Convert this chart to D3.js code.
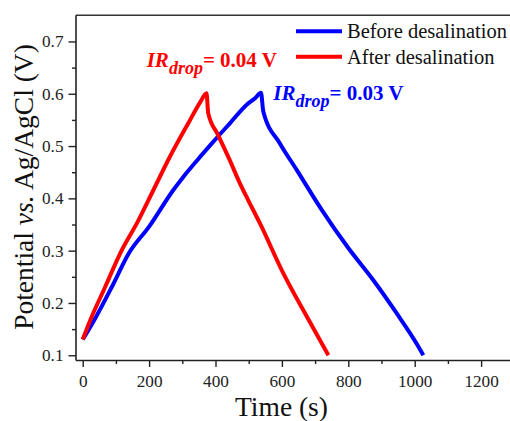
<!DOCTYPE html>
<html>
<head>
<meta charset="utf-8">
<script src="https://cdn.jsdelivr.net/npm/d3@7"></script>
<style>
  html, body { margin: 0; padding: 0; background: #fff; }
  svg { display: block; font-family: "Liberation Serif", "Times New Roman", serif; }
  text { font-family: "Liberation Serif", "Times New Roman", serif; }
</style>
</head>
<body>
<svg id="chart" width="510" height="421"></svg>
<script>
// ---- data ----
const beforeTime = [0, 35, 88, 139, 200, 273, 303, 345, 393, 444, 494, 520, 537, 544, 594, 645, 720, 800, 875, 946, 1006, 1026];
const beforePotential = [0.130, 0.1675, 0.231, 0.295, 0.346, 0.416, 0.441, 0.473, 0.508, 0.544, 0.579, 0.592, 0.602, 0.566, 0.505, 0.454, 0.378, 0.305, 0.244, 0.180, 0.122, 0.100];
const afterTime = [0, 23, 68, 113, 167, 213, 263, 318, 355, 373, 378, 408, 443, 469, 498, 534, 604, 675, 740];
const afterPotential = [0.130, 0.1675, 0.231, 0.295, 0.357, 0.416, 0.480, 0.5436, 0.585, 0.601, 0.563, 0.521, 0.473, 0.435, 0.397, 0.352, 0.257, 0.174, 0.100];
const xTicks = [0, 200, 400, 600, 800, 1000, 1200];
const xMinorTicks = [100, 300, 500, 700, 900, 1100];
const yTicks = [0.1, 0.2, 0.3, 0.4, 0.5, 0.6, 0.7];
const yMinorTicks = [0.15, 0.25, 0.35, 0.45, 0.55, 0.65];
const seriesNames = ["Before desalination", "After desalination"];
const seriesColors = ["#0000ff", "#ff0000"];
const irLabels = ["0.03 V", "0.04 V"];

(function () {
const FONT = '"Liberation Serif", "Times New Roman", serif';
const svg = d3.select("#chart");
const plotLeft = 76, plotTop = 15.3, plotBottom = 360.5;
const x = d3.scaleLinear().domain([-20, 1300]).range([76.06, 514.3]);
const y = d3.scaleLinear().domain([0.09, 0.75]).range([plotBottom, plotTop]);

// top frame line
svg.append("line").attr("x1", plotLeft).attr("x2", 510).attr("y1", plotTop).attr("y2", plotTop)
  .attr("stroke", "#333").attr("stroke-width", 1.6);

// axes
const gx = svg.append("g").attr("transform", `translate(0,${plotBottom})`)
  .call(d3.axisBottom(x).tickValues(xTicks).tickSize(6.5).tickPadding(7.5).tickFormat(d3.format("d")));
const gxm = svg.append("g").attr("transform", `translate(0,${plotBottom})`)
  .call(d3.axisBottom(x).tickValues(xMinorTicks).tickSize(3.5).tickFormat(""));
const gy = svg.append("g").attr("transform", `translate(${plotLeft},0)`)
  .call(d3.axisLeft(y).tickValues(yTicks).tickSize(7.5).tickPadding(5).tickFormat(d3.format(".1f")));
const gym = svg.append("g").attr("transform", `translate(${plotLeft},0)`)
  .call(d3.axisLeft(y).tickValues(yMinorTicks).tickSize(4).tickFormat(""));
[gx, gxm, gy, gym].forEach(g => {
  g.attr("font-family", FONT);
  g.selectAll("path").attr("stroke", "#222").attr("stroke-width", 1.6);
  g.selectAll("line").attr("stroke", "#222").attr("stroke-width", 1.4);
  g.selectAll("text").style("font-family", FONT).attr("font-size", "17.2px").attr("fill", "#222");
});
gxm.select("path").remove();
gym.select("path").remove();
gy.select("path").attr("d", `M0,${plotBottom}V${plotTop}`);
gx.select("path").attr("d", `M${plotLeft},0H510`);

// lines
const line = d3.line().x(d => x(d[0])).y(d => y(d[1])).curve(d3.curveMonotoneX);
const beforeData = beforeTime.map((t, i) => [t, beforePotential[i]]);
const afterData = afterTime.map((t, i) => [t, afterPotential[i]]);
svg.append("path").datum(beforeData).attr("d", line).attr("fill", "none")
  .attr("stroke", seriesColors[0]).attr("stroke-width", 4).attr("stroke-linejoin", "round");
svg.append("path").datum(afterData).attr("d", line).attr("fill", "none")
  .attr("stroke", seriesColors[1]).attr("stroke-width", 4).attr("stroke-linejoin", "round");

// legend
const legendY = [31.3, 56.7];
seriesNames.forEach((name, i) => {
  svg.append("line").attr("x1", 296).attr("x2", 342).attr("y1", legendY[i]).attr("y2", legendY[i])
    .attr("stroke", seriesColors[i]).attr("stroke-width", 4);
  svg.append("text").attr("x", 347).attr("y", legendY[i] + 7).attr("font-size", "20.5px")
    .attr("fill", "#111").text(name);
});

// IR drop annotations
function irLabel(px, py, color, val) {
  const t = svg.append("text").attr("x", px).attr("y", py).attr("fill", color)
    .attr("font-weight", "bold").attr("font-size", "21px");
  t.append("tspan").attr("font-style", "italic").text("IR");
  t.append("tspan").attr("font-style", "italic").attr("font-size", "18px").attr("dy", 7).text("drop");
  t.append("tspan").attr("dy", -7).text("= " + val);
}
irLabel(146.7, 66.7, seriesColors[1], irLabels[1]);
irLabel(273.3, 100, seriesColors[0], irLabels[0]);

// axis titles
svg.append("text").attr("x", 281.5).attr("y", 416).attr("text-anchor", "middle")
  .attr("font-size", "27.5px").attr("fill", "#111").text("Time (s)");
const yt = svg.append("text").attr("transform", "translate(33,187) rotate(-90)")
  .attr("text-anchor", "middle").attr("font-size", "27.5px").attr("fill", "#111");
yt.append("tspan").text("Potential ");
yt.append("tspan").attr("font-style", "italic").text("vs.");
yt.append("tspan").text(" Ag/AgCl (V)");
})();
</script>
</body>
</html>
